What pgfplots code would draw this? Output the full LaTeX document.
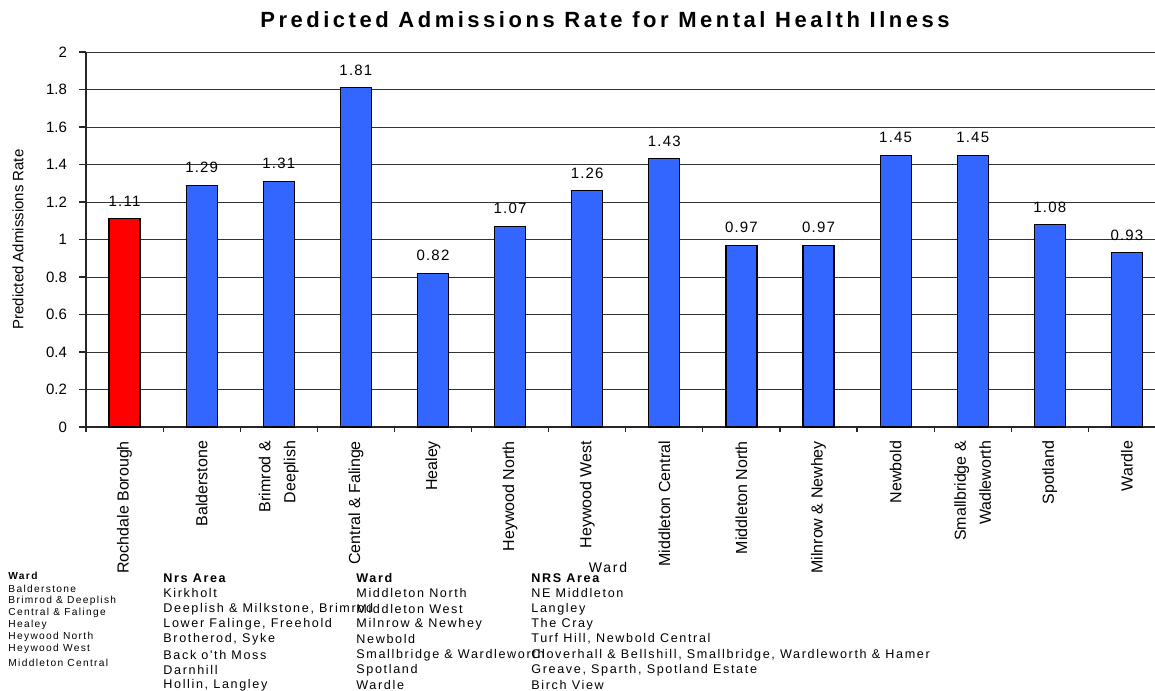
\documentclass[border=0pt]{standalone}
\usepackage{fontspec}
\setmainfont{Liberation Sans}
\newfontfamily\titlefont[LetterSpace=16]{Liberation Sans}
\newfontfamily\lblfont[LetterSpace=8]{Liberation Sans}
\newfontfamily\tabfont[LetterSpace=13]{Liberation Sans}
\usepackage{pgfplots}
\pgfplotsset{compat=1.18}
\definecolor{barblue}{HTML}{3366FF}
\definecolor{barred}{HTML}{FF0000}

\begin{document}
\begin{tikzpicture}
\useasboundingbox (0,0) rectangle (577.5pt,-345pt);
\begin{axis}[
    at={(43pt,-213.5pt)}, anchor=south west,
    scale only axis, width=534.5pt, height=187.5pt,
    xmin=-0.5, xmax=13.364, ymin=0, ymax=2,
    axis lines*=left,
    axis line style={-, black!85, line width=0.6pt},
    ymajorgrids, grid style={black!80, line width=0.5pt},
    ytick={0,0.2,0.4,0.6,0.8,1,1.2,1.4,1.6,1.8,2},
    tick align=outside, major tick length=3.5pt, minor tick length=2.5pt,
    tick style={black!85, line width=0.6pt},
    major x tick style={draw=none},
    xtick={0,...,13},
    minor xtick={-0.5,0.5,...,12.5},
    xticklabels={Rochdale Borough, Balderstone, Brimrod \&\\Deeplish,
        Central \& Falinge, Healey, Heywood North, Heywood West,
        Middleton Central, Middleton North, Milnrow \& Newhey, Newbold,
        Smallbridge \&\\Wadleworth, Spotland, Wardle},
    xticklabel style={rotate=90, anchor=east, align=right,
        font=\fontsize{8}{12.5}\selectfont},
    yticklabel style={font=\fontsize{7.5}{9}\selectfont, xshift=-2.5pt},
    /pgf/number format/assume math mode=true,
    title={Predicted Admissions Rate for Mental Health Ilness},
    title style={font=\titlefont\bfseries\fontsize{11}{13}\selectfont,
        at={(axis description cs:0.4855,1.0853)}, anchor=center, yshift=-6pt},
    ylabel={Predicted Admissions Rate},
    ylabel style={font=\fontsize{7.5}{9}\selectfont,
        at={(axis description cs:-0.0636,0.5)}, anchor=center},
    xlabel={Ward},
    xlabel style={font=\tabfont\fontsize{7}{8}\selectfont,
        at={(axis description cs:0.4883,-0.3733)}, anchor=center},
    nodes near coords,
    every node near coord/.append style={font=\lblfont\fontsize{7.5}{9}\selectfont,
        anchor=south, yshift=2.5pt},
]
\addplot[ybar, bar width=15.5pt, bar shift=0pt, fill=barred, draw=black, line width=0.6pt]
    coordinates {(0,1.11)};
\addplot[ybar, bar width=15.5pt, bar shift=0pt, fill=barblue, draw=black, line width=0.6pt]
    coordinates {(1,1.29) (2,1.31) (3,1.81) (4,0.82) (5,1.07) (6,1.26) (7,1.43)
                 (8,0.97) (9,0.97) (10,1.45) (11,1.45) (12,1.08) (13,0.93)};
\end{axis}
\begin{scope}[x=0.5pt, y=-0.5pt, every node/.style={anchor=west, inner sep=0pt}]
% left column
\begin{scope}[every node/.append style={font=\tabfont\fontsize{5.1}{6}\selectfont}]
\node at (8,576) {\bfseries Ward};
\node at (8,589) {Balderstone};
\node at (8,601) {Brimrod \& Deeplish};
\node at (8,613) {Central \& Falinge};
\node at (8,625) {Healey};
\node at (8,637) {Heywood North};
\node at (8,649) {Heywood West};
\node at (8,663) {Middleton Central};
\end{scope}
\begin{scope}[every node/.append style={font=\tabfont\fontsize{6.3}{7}\selectfont}]
\node at (163,578) {\bfseries Nrs Area};
\node at (163,593) {Kirkholt};
\node at (163,609) {Deeplish \& Milkstone, Brimrod};
\node at (163,624) {Lower Falinge, Freehold};
\node at (163,639) {Brotherod, Syke};
\node at (163,655) {Back o'th Moss};
\node at (163,670) {Darnhill};
\node at (163,685) {Hollin, Langley};
\node at (356,578) {\bfseries Ward};
\node at (356,593) {Middleton North};
\node at (356,609) {Middleton West};
\node at (356,624) {Milnrow \& Newhey};
\node at (356,639) {Newbold};
\node at (356,655) {Smallbridge \& Wardleworth};
\node at (356,670) {Spotland};
\node at (356,685) {Wardle};
\node at (531,578) {\bfseries NRS Area};
\node at (531,593) {NE Middleton};
\node at (531,609) {Langley};
\node at (531,624) {The Cray};
\node at (531,639) {Turf Hill, Newbold Central};
\node at (531,655) {Cloverhall \& Bellshill, Smallbridge, Wardleworth \& Hamer};
\node at (531,670) {Greave, Sparth, Spotland Estate};
\node at (531,685) {Birch View};
\end{scope}
\end{scope}
\end{tikzpicture}
\end{document}
